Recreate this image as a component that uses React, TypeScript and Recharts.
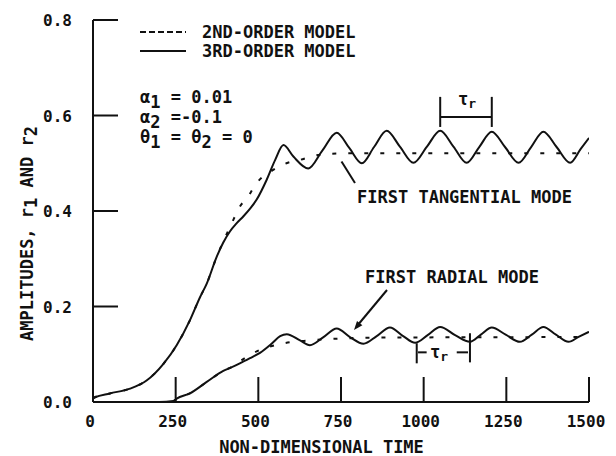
import React from "react";
import { LineChart, Line, XAxis, YAxis, ReferenceLine } from "recharts";

// ---- data ----
const tanTime3 = [0, 6, 51, 112, 162, 213, 253, 293, 324, 344, 374, 394, 414, 434, 455, 475, 495, 525, 551, 576, 606, 651, 694, 737, 775, 813, 850, 888, 928, 969, 1010, 1050, 1090, 1130, 1168, 1206, 1246, 1287, 1325, 1362, 1402, 1443, 1475, 1500];
const tanAmp3 = [0.008, 0.01, 0.018, 0.028, 0.045, 0.08, 0.119, 0.171, 0.22, 0.248, 0.304, 0.334, 0.357, 0.374, 0.389, 0.405, 0.424, 0.465, 0.507, 0.538, 0.514, 0.489, 0.527, 0.564, 0.532, 0.5, 0.534, 0.568, 0.535, 0.501, 0.535, 0.568, 0.535, 0.501, 0.534, 0.566, 0.534, 0.501, 0.534, 0.566, 0.534, 0.501, 0.53, 0.553];

const tanTime2 = [0, 6, 51, 112, 162, 213, 253, 293, 324, 344, 374, 394, 424, 444, 470, 490, 545, 585, 626, 665, 720, 800, 1000, 1500];
const tanAmp2 = [0.008, 0.01, 0.018, 0.028, 0.045, 0.08, 0.119, 0.171, 0.22, 0.248, 0.304, 0.336, 0.381, 0.409, 0.431, 0.454, 0.486, 0.5, 0.507, 0.515, 0.52, 0.521, 0.521, 0.521];

const radTime3 = [0, 200, 243, 253, 293, 344, 394, 420, 444, 475, 505, 540, 566, 586, 626, 656, 697, 737, 777, 818, 858, 898, 938, 974, 1012, 1050, 1095, 1140, 1173, 1206, 1248, 1291, 1327, 1362, 1400, 1438, 1470, 1500];
const radAmp3 = [0, 0, 0.002, 0.007, 0.018, 0.042, 0.065, 0.073, 0.081, 0.092, 0.103, 0.122, 0.138, 0.142, 0.129, 0.119, 0.136, 0.154, 0.136, 0.122, 0.138, 0.156, 0.138, 0.124, 0.14, 0.157, 0.14, 0.126, 0.141, 0.156, 0.141, 0.126, 0.141, 0.157, 0.141, 0.126, 0.137, 0.147];

const radTime2 = [0, 200, 243, 253, 293, 344, 394, 424, 457, 495, 570, 656, 750, 900, 1500];
const radAmp2 = [0, 0, 0.002, 0.007, 0.018, 0.042, 0.065, 0.075, 0.091, 0.106, 0.122, 0.129, 0.133, 0.135, 0.136];

const xTicks = [0, 250, 500, 750, 1000, 1250, 1500];
const xTickLabels = ["0", "250", "500", "750", "1000", "1250", "1500"];
const yTicks = [0, 0.2, 0.4, 0.6, 0.8];
const yTickLabels = ["0.0", "0.2", "0.4", "0.6", "0.8"];

const toData = (ts: number[], vs: number[]) => ts.map((t, i) => ({ t, r: vs[i] }));
const tan3Data = toData(tanTime3, tanAmp3);
const tan2Data = toData(tanTime2, tanAmp2);
const rad3Data = toData(radTime3, radAmp3);
const rad2Data = toData(radTime2, radAmp2);

const FONT = "'DejaVu Sans Mono', monospace";
const INK = "#111";

const XTick = (props: any) => {
  const { x, y, payload } = props;
  const idx = xTicks.indexOf(payload.value);
  return (
    <g>
      {payload.value !== 0 && (
        <line x1={x} x2={x} y1={y} y2={y - 25} stroke={INK} strokeWidth={2} />
      )}
      <text x={x - 3} y={y + 25} textAnchor="middle" fontFamily={FONT} fontSize={16} fontWeight="bold" fill={INK}>
        {xTickLabels[idx]}
      </text>
    </g>
  );
};

const YTick = (props: any) => {
  const { x, y, payload } = props;
  const idx = yTicks.indexOf(payload.value);
  return (
    <g>
      {payload.value !== 0 && (
        <line x1={x} x2={x + 25} y1={y} y2={y} stroke={INK} strokeWidth={2} />
      )}
      <text x={x - 21} y={y + 6} textAnchor="end" fontFamily={FONT} fontSize={16} fontWeight="bold" fill={INK}>
        {yTickLabels[idx]}
      </text>
    </g>
  );
};

const txt = { fontFamily: FONT, fontSize: 17, fontWeight: "bold" as const, fill: INK };

const Overlay = () => (
  <svg width={616} height={456} style={{ position: "absolute", left: 0, top: 0, pointerEvents: "none" }}>
    {/* legend */}
    <line x1={140} x2={186} y1={32} y2={32} stroke={INK} strokeWidth={2} strokeDasharray="6 3" />
    <text x={202} y={38} {...txt}>2ND-ORDER MODEL</text>
    <line x1={140} x2={186} y1={51} y2={51} stroke={INK} strokeWidth={2} />
    <text x={202} y={57} {...txt}>3RD-ORDER MODEL</text>
    {/* parameters */}
    <text x={140} y={103} {...txt}>
      α<tspan dy={5}>1</tspan><tspan dy={-5}> = 0.01</tspan>
    </text>
    <text x={140} y={123} {...txt}>
      α<tspan dy={5}>2</tspan><tspan dy={-5}> =-0.1</tspan>
    </text>
    <text x={140} y={143} {...txt}>
      θ<tspan dy={5}>1</tspan><tspan dy={-5}> = θ</tspan><tspan dy={5}>2</tspan><tspan dy={-5}> = 0</tspan>
    </text>
    {/* mode labels */}
    <text x={357} y={203} {...txt}>FIRST TANGENTIAL MODE</text>
    <line x1={355} y1={183} x2={341.5} y2={161.5} stroke={INK} strokeWidth={2} />
    <text x={365} y={282.5} {...txt}>FIRST RADIAL MODE</text>
    <line x1={387} y1={290} x2={357} y2={326} stroke={INK} strokeWidth={2} />
    <polygon points="354,330 362.4,325.3 357,320.9" fill={INK} />
    {/* tau labels */}
    <text x={458} y={105} {...txt}>
      τ<tspan dy={3} fontSize={13}>r</tspan>
    </text>
    <text x={430} y={358} {...txt}>
      τ<tspan dy={3} fontSize={13}>r</tspan>
    </text>
    {/* axis titles */}
    <text x={321.5} y={452.5} textAnchor="middle" {...txt}>NON-DIMENSIONAL TIME</text>
    <text transform="translate(32.5,233.5) rotate(-90)" textAnchor="middle" {...txt}>
      AMPLITUDES, r<tspan dy={4}>1</tspan><tspan dy={-4}> AND r</tspan><tspan dy={4}>2</tspan>
    </text>
  </svg>
);

const seg = (x1: number, y1: number, x2: number, y2: number, key: string) => (
  <ReferenceLine
    key={key}
    segment={[{ x: x1, y: y1 }, { x: x2, y: y2 }]}
    stroke={INK}
    strokeWidth={2}
    ifOverflow="visible"
  />
);

export default function App() {
  return (
    <div style={{ position: "absolute", left: 0, top: 0, width: 616, height: 456, background: "#fff" }}>
      <LineChart width={616} height={456} margin={{ top: 20, right: 27, bottom: 24, left: 33 }}>
        <XAxis
          dataKey="t"
          type="number"
          domain={[0, 1500]}
          ticks={xTicks}
          interval={0}
          tickSize={0}
          tickMargin={0}
          height={30}
          axisLine={{ stroke: INK, strokeWidth: 2 }}
          tickLine={false}
          tick={<XTick />}
          allowDataOverflow
        />
        <YAxis
          type="number"
          domain={[0, 0.8]}
          ticks={yTicks}
          interval={0}
          tickSize={0}
          tickMargin={0}
          width={60}
          axisLine={{ stroke: INK, strokeWidth: 2 }}
          tickLine={false}
          tick={<YTick />}
          allowDataOverflow
        />
        <Line data={tan2Data} dataKey="r" type="monotone" stroke={INK} strokeWidth={2} strokeDasharray="4 12" dot={false} activeDot={false} isAnimationActive={false} />
        <Line data={tan3Data} dataKey="r" type="monotone" stroke={INK} strokeWidth={2} dot={false} activeDot={false} isAnimationActive={false} />
        <Line data={rad2Data} dataKey="r" type="monotone" stroke={INK} strokeWidth={2} strokeDasharray="4 12" dot={false} activeDot={false} isAnimationActive={false} />
        <Line data={rad3Data} dataKey="r" type="monotone" stroke={INK} strokeWidth={2} dot={false} activeDot={false} isAnimationActive={false} />
        {seg(1050, 0.576, 1050, 0.639, "u1")}
        {seg(1206, 0.576, 1206, 0.639, "u2")}
        {seg(1050, 0.597, 1206, 0.597, "u3")}
        {seg(979, 0.081, 979, 0.123, "l1")}
        {seg(1140, 0.083, 1140, 0.144, "l2")}
        {seg(983, 0.104, 1009, 0.104, "l3")}
        {seg(1100, 0.104, 1134, 0.104, "l4")}
      </LineChart>
      <Overlay />
    </div>
  );
}
